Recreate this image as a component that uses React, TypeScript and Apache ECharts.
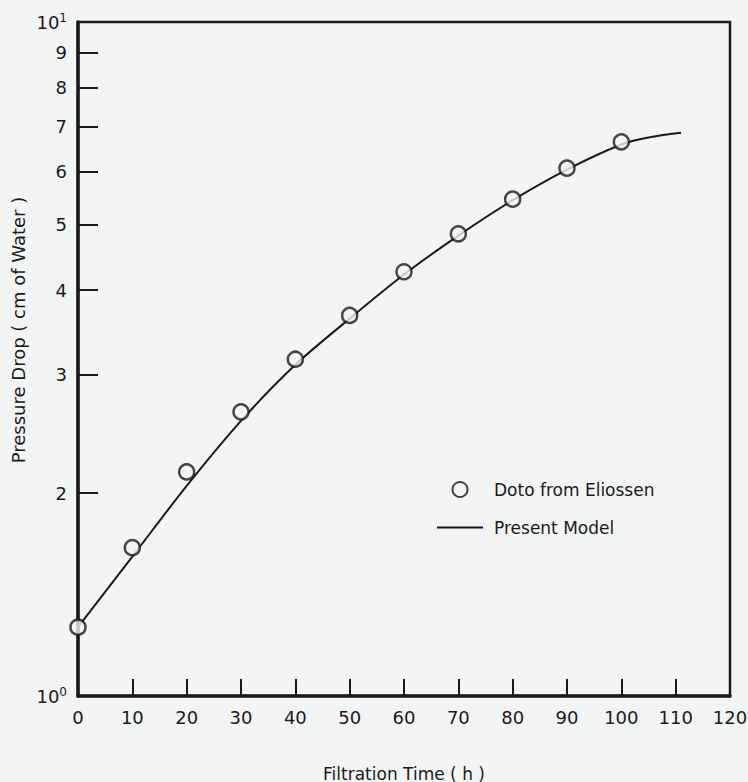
import React, { useEffect, useRef } from "react";
import * as echarts from "echarts";

const xTicks = [0, 10, 20, 30, 40, 50, 60, 70, 80, 90, 100, 110, 120];
const yTicks = [1, 2, 3, 4, 5, 6, 7, 8, 9, 10];
const dataTime = [0, 10, 20, 30, 40, 50, 60, 70, 80, 90, 100];
const dataDrop = [1.265, 1.66, 2.15, 2.64, 3.16, 3.67, 4.26, 4.85, 5.46, 6.07, 6.64];
const modelTime = [0, 10, 20, 30, 40, 50, 60, 70, 80, 90, 100, 105, 111];
const modelDrop = [1.265, 1.61, 2.05, 2.56, 3.1, 3.63, 4.22, 4.82, 5.44, 6.04, 6.58, 6.74, 6.85];
const seriesNames = ["Doto from Eliossen", "Present Model"];
const xTitle = "Filtration Time ( h )";
const yTitle = "Pressure Drop ( cm of Water )";

const FONT = "DejaVu Sans";
const INK = "#1a1a1a";
const BG = "#f3f4f4";

export default function App() {
  const ref = useRef<HTMLDivElement>(null);
  useEffect(() => {
    if (!ref.current) return;
    const chart = echarts.init(ref.current, null, { renderer: "svg" });
    chart.setOption({
      animation: false,
      backgroundColor: BG,
      grid: {
        left: 78,
        right: 18,
        top: 22,
        bottom: 86,
        outerBoundsMode: "none",
        containLabel: false,
        show: true,
        borderColor: INK,
        borderWidth: 2.5,
        backgroundColor: "transparent",
      },
      legend: {
        orient: "vertical",
        left: 432,
        top: 476,
        itemWidth: 46,
        itemHeight: 15,
        itemGap: 21,
        textStyle: { fontFamily: FONT, fontSize: 17, color: INK, padding: [0, 0, 0, 6] },
        data: [
          { name: seriesNames[0], icon: "circle" },
          { name: seriesNames[1], icon: "path://M0,0H46V2H0Z", itemStyle: { color: INK } },
        ],
      },
      xAxis: {
        type: "value",
        min: 0,
        max: 120,
        interval: 10,
        name: xTitle,
        nameLocation: "middle",
        nameGap: 69,
        nameTextStyle: { fontFamily: FONT, fontSize: 17, color: INK },
        axisLine: { lineStyle: { color: INK, width: 3.5 } },
        axisTick: { inside: true, length: 17, lineStyle: { color: INK, width: 2 } },
        axisLabel: { fontFamily: FONT, fontSize: 18, color: INK, margin: 12 },
        splitLine: { show: false },
        data: xTicks,
      },
      yAxis: {
        type: "log",
        logBase: 10,
        min: 1,
        max: 10,
        axisLine: { show: true, lineStyle: { color: INK, width: 3.5 } },
        axisTick: { show: true, inside: true, length: 20, customValues: yTicks, lineStyle: { color: INK, width: 2 } },
        axisLabel: {
          fontFamily: FONT,
          fontSize: 18,
          color: INK,
          margin: 11,
          customValues: yTicks,
          formatter: (v: number) => {
            if (Math.abs(v - 1) < 1e-9) return "10{s|0}";
            if (Math.abs(v - 10) < 1e-9) return "10{s|1}";
            return String(Math.round(v));
          },
          rich: { s: { fontFamily: FONT, fontSize: 12, color: INK, padding: [0, 0, 9, 0] } },
        },
        splitLine: { show: false },
        minorTick: { show: false },
      },
      graphic: [
        {
          type: "text",
          x: 18,
          y: 330,
          rotation: Math.PI / 2,
          style: {
            text: yTitle,
            fontFamily: FONT,
            fontSize: 18,
            fill: INK,
            textAlign: "center",
            textVerticalAlign: "middle",
          },
        },
      ],
      series: [
        {
          name: seriesNames[1],
          type: "line",
          data: modelTime.map((t, i) => [t, modelDrop[i]]),
          smooth: 0.3,
          symbol: "none",
          lineStyle: { color: INK, width: 2 },
          itemStyle: { color: INK },
          z: 2,
        },
        {
          name: seriesNames[0],
          type: "scatter",
          data: dataTime.map((t, i) => [t, dataDrop[i]]),
          symbol: "circle",
          symbolSize: 15,
          itemStyle: { color: BG, borderColor: INK, borderWidth: 2.5 },
          z: 3,
        },
      ],
    });
    return () => chart.dispose();
  }, []);
  return <div ref={ref} style={{ width: 748, height: 782, position: "absolute", left: 0, top: 0 }} />;
}
